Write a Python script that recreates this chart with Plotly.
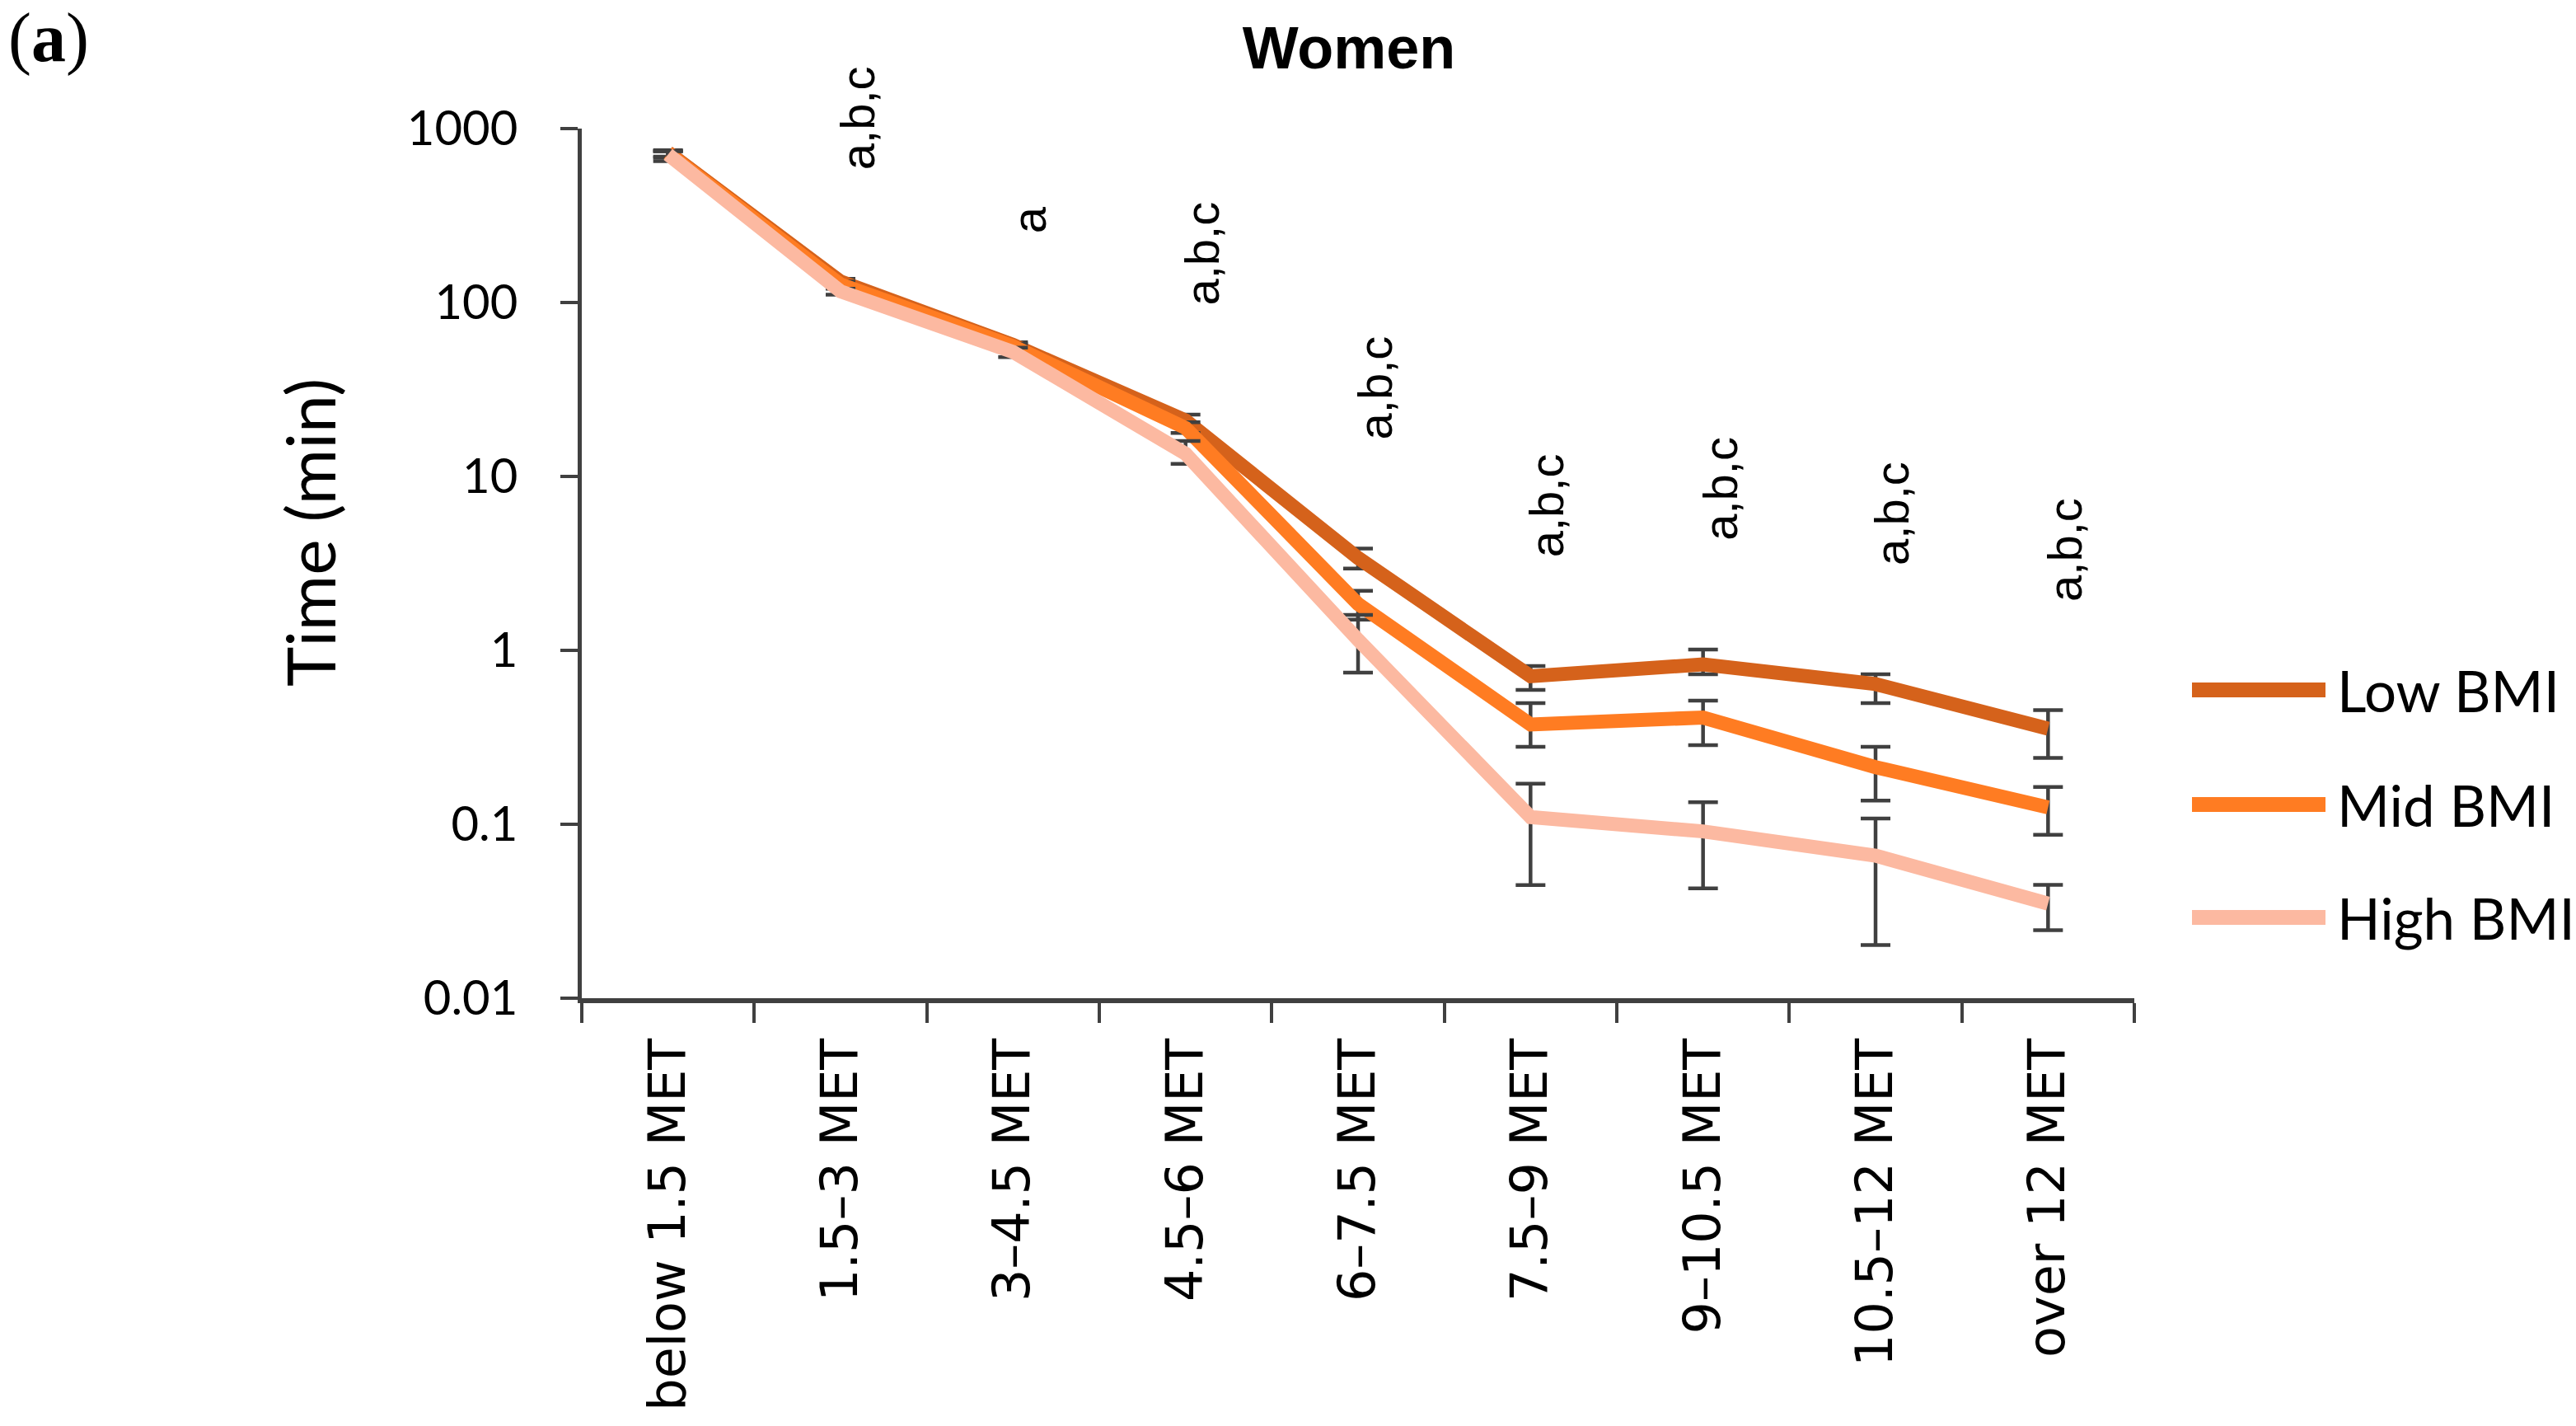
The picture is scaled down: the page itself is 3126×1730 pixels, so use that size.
import plotly.graph_objects as go
import math

# ---------------- data ----------------
categories = ["below 1.5 MET", "1.5–3 MET", "3–4.5 MET", "4.5–6 MET", "6–7.5 MET",
              "7.5–9 MET", "9–10.5 MET", "10.5–12 MET", "over 12 MET"]

low_bmi = [730, 132, 57, 21, 3.4, 0.71, 0.83, 0.64, 0.355]
low_bmi_upper = [750, 137, 59, 22.7, 3.85, 0.813, 1.01, 0.729, 0.453]
low_bmi_lower = [690, 126, 54, 19.5, 2.95, 0.593, 0.729, 0.498, 0.241]

mid_bmi = [720, 127, 56, 19, 1.85, 0.375, 0.411, 0.213, 0.125]
mid_bmi_upper = [740, 132, 58, 20.5, 2.2, 0.498, 0.514, 0.279, 0.164]
mid_bmi_lower = [680, 121, 53, 17.8, 1.5, 0.279, 0.285, 0.137, 0.087]

high_bmi = [710, 116, 52, 13.5, 1.15, 0.11, 0.091, 0.066, 0.035]
high_bmi_upper = [740, 120, 55, 16, 1.6, 0.171, 0.134, 0.108, 0.0449]
high_bmi_lower = [650, 111, 48.5, 11.8, 0.745, 0.0447, 0.0428, 0.0202, 0.0246]

sig_labels = ["", "a,b,c", "a", "a,b,c", "a,b,c", "a,b,c", "a,b,c", "a,b,c", "a,b,c"]

series_names = ["Low BMI", "Mid BMI", "High BMI"]
y_tick_vals = [0.01, 0.1, 1, 10, 100, 1000]
y_tick_text = ["0.01", "0.1", "1", "10", "100", "1000"]

# ---------------- styles ----------------
colors = ["#D5621B", "#FF7C22", "#FCB9A1"]
err_color = "#404040"
W, H = 3126, 1730
ML, MR, MT, MB = 706, 536, 156, 519
PW, PH = W - ML - MR, H - MT - MB

fig = go.Figure()
series = [
    (series_names[0], low_bmi, low_bmi_upper, low_bmi_lower, colors[0]),
    (series_names[1], mid_bmi, mid_bmi_upper, mid_bmi_lower, colors[1]),
    (series_names[2], high_bmi, high_bmi_upper, high_bmi_lower, colors[2]),
]
for name, vals, up, lo, col in series:
    fig.add_trace(go.Scatter(
        x=categories, y=vals, mode="lines", name=name,
        line=dict(color=col, width=17),
        error_y=dict(type="data", symmetric=False,
                     array=[u - v for u, v in zip(up, vals)],
                     arrayminus=[v - l for v, l in zip(vals, lo)],
                     color=err_color, thickness=4.5, width=18),
        showlegend=False,
    ))

# significance labels above each category
annotations = []
for i, (cat, lab) in enumerate(zip(categories, sig_labels)):
    if not lab:
        continue
    top = max(low_bmi_upper[i], mid_bmi_upper[i], high_bmi_upper[i])
    annotations.append(dict(
        x=cat, y=math.log10(top), xref="x", yref="y", text=lab, showarrow=False,
        textangle=-90, xanchor="center", yanchor="bottom", xshift=20, yshift=130,
        font=dict(family="Liberation Sans", size=58, color="black"),
    ))

# custom legend
def px_to_paper_x(px):
    return (px - ML) / PW

def px_to_paper_y(py):
    return (H - MB - py) / PH

legend_rows = [837, 976, 1113]
shapes = []
for name, col, ry in zip(series_names, colors, legend_rows):
    yp = px_to_paper_y(ry)
    shapes.append(dict(type="line", xref="paper", yref="paper",
                       x0=px_to_paper_x(2660), x1=px_to_paper_x(2822), y0=yp, y1=yp,
                       line=dict(color=col, width=18)))
    annotations.append(dict(x=px_to_paper_x(2834), y=yp, xref="paper", yref="paper",
                            text=name, showarrow=False, xanchor="left", yanchor="middle",
                            font=dict(family="Lato", size=69, color="black")))

# y axis title
annotations.append(dict(x=px_to_paper_x(375), y=px_to_paper_y(646), xref="paper", yref="paper",
                        text="Time (min)", showarrow=False, textangle=-90,
                        xanchor="center", yanchor="middle",
                        font=dict(family="Lato", size=82, color="black")))
# panel label
annotations.append(dict(x=px_to_paper_x(8), y=px_to_paper_y(46), xref="paper", yref="paper",
                        text="(<b>a</b>)", showarrow=False, xanchor="left", yanchor="middle",
                        font=dict(family="Liberation Serif", size=84, color="black")))

fig.update_layout(
    width=W, height=H, autosize=False,
    margin=dict(l=ML, r=MR, t=MT, b=MB, pad=0),
    paper_bgcolor="white", plot_bgcolor="white",
    title=dict(text="<b>Women</b>", x=1637 / W, xanchor="center",
               y=1 - 58 / H, yanchor="middle",
               font=dict(family="Liberation Sans", size=72, color="black")),
    xaxis=dict(type="category", range=[-0.5, len(categories) - 0.5],
               showline=True, linecolor=err_color, linewidth=6,
               ticks="outside", tickson="boundaries", ticklen=24, tickwidth=4,
               tickcolor=err_color, tickangle=-90, ticklabelstandoff=18,
               tickfont=dict(family="DejaVu Sans", size=62, color="black"),
               showgrid=False, zeroline=False),
    yaxis=dict(type="log", range=[-2, 3], tickvals=y_tick_vals, ticktext=y_tick_text,
               showline=True, linecolor=err_color, linewidth=5,
               ticks="outside", ticklen=21, tickwidth=4, tickcolor=err_color,
               ticklabelstandoff=40,
               tickfont=dict(family="Lato", size=58, color="black"),
               showgrid=False, zeroline=False),
    shapes=shapes,
    annotations=annotations,
)

fig.write_html(
    "out.html",
    config={"displayModeBar": False},
    post_script="document.body.style.margin='0';document.body.style.overflow='hidden';",
)
